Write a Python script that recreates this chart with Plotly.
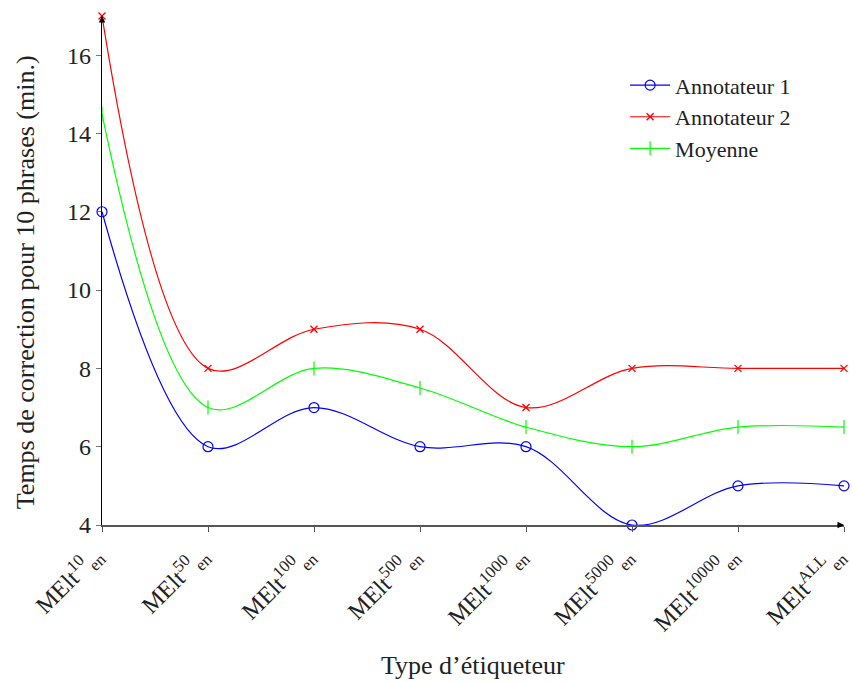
import plotly.graph_objects as go

categories = ["10", "50", "100", "500", "1000", "5000", "10000", "ALL"]
annot1 = [12, 6, 7, 6, 6, 4, 5, 5]
annot2 = [17, 8, 9, 9, 7, 8, 8, 8]
moyenne = [14.5, 7, 8, 7.5, 6.5, 6, 6.5, 6.5]
yticks = [4, 6, 8, 10, 12, 14, 16]

xs = list(range(len(categories)))
ticktext = [f"MElt<sup>{c}</sup><sub>en</sub>" for c in categories]
FONT = "Liberation Serif"
FS = 24

fig = go.Figure()
fig.add_trace(go.Scatter(x=xs, y=annot1, name="Annotateur 1", mode="lines+markers",
                         line=dict(color="#0000ff", width=1.2, shape="spline", smoothing=1.0),
                         marker=dict(symbol="circle-open", size=10, color="#0000ff", line=dict(width=1.2)),
                         cliponaxis=False))
fig.add_trace(go.Scatter(x=xs, y=annot2, name="Annotateur 2", mode="lines+markers",
                         line=dict(color="#ff0000", width=1.2, shape="spline", smoothing=1.0),
                         marker=dict(symbol="x-thin-open", size=7, color="#ff0000", line=dict(width=1.3, color="#ff0000")),
                         cliponaxis=False))
fig.add_trace(go.Scatter(x=xs, y=moyenne, name="Moyenne", mode="lines+markers",
                         line=dict(color="#00ff00", width=1.2, shape="spline", smoothing=1.0),
                         marker=dict(symbol="line-ns-open", size=10, color="#00ff00", line=dict(width=1.2, color="#00ff00")),
                         cliponaxis=False))

fig.update_layout(
    width=852, height=682,
    margin=dict(l=102, r=8, t=16, b=157, autoexpand=False),
    paper_bgcolor="white", plot_bgcolor="white",
    font=dict(family=FONT, size=FS, color="#222"),
    showlegend=True,
    legend=dict(x=0.705, y=0.905, xanchor="left", yanchor="top",
                bgcolor="rgba(0,0,0,0)", font=dict(size=22), tracegroupgap=0, itemwidth=40),
    xaxis=dict(range=[0, 7], tickvals=xs, ticktext=ticktext, tickangle=-45, automargin=False,
               ticklabeloverflow="allow", ticklabelshift=-7,
               showgrid=False, zeroline=False, showline=True, linecolor="#555", linewidth=1.5,
               ticks="outside", ticklen=5, tickcolor="#555", tickfont=dict(size=FS)),
    yaxis=dict(range=[4, 17], tickvals=yticks, showgrid=False, zeroline=False, automargin=False,
               showline=True, linecolor="black", linewidth=1.2,
               ticks="outside", ticklen=5, tickcolor="#777", tickfont=dict(size=FS)),
)
# axis titles
fig.add_annotation(xref="paper", yref="paper", x=0.5, y=0, yshift=-140, showarrow=False,
                   text="Type d’étiqueteur", font=dict(size=26), xanchor="center", yanchor="middle")
fig.add_annotation(xref="paper", yref="paper", x=0, y=0.477, xshift=-77, showarrow=False, textangle=-90,
                   text="Temps de correction pour 10 phrases (min.)", font=dict(size=26),
                   xanchor="center", yanchor="middle")
# axis arrows
fig.add_annotation(xref="paper", yref="paper", x=1.0, y=0, ax=-8, ay=0, showarrow=True,
                   arrowhead=2, arrowsize=1, arrowwidth=1.3, arrowcolor="black", text="")
fig.add_annotation(xref="paper", yref="paper", x=0, y=1.0, ax=0, ay=8, showarrow=True,
                   arrowhead=2, arrowsize=1, arrowwidth=1.3, arrowcolor="black", text="")

fig.write_html("out.html", config={"displayModeBar": False},
               post_script="document.body.style.margin='0';document.body.style.overflow='hidden';")
